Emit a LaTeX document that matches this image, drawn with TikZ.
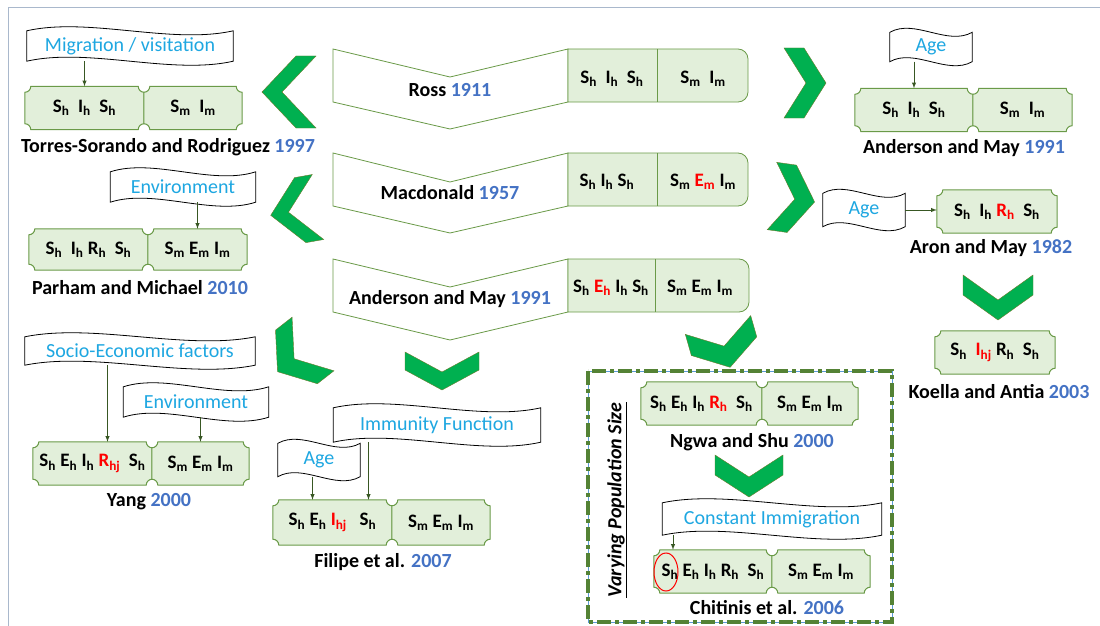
\documentclass[tikz,border=0pt]{standalone}
\usepackage{fontspec}
\setmainfont{Carlito}
\usepackage{tikz}
\usetikzlibrary{calc}
\definecolor{cellfill}{HTML}{E2EFDA}
\definecolor{celldraw}{HTML}{6A9A48}
\definecolor{chevfill}{HTML}{00B050}
\definecolor{chevdraw}{HTML}{6B7A2A}
\definecolor{yearblue}{HTML}{4472C4}
\definecolor{wavetext}{HTML}{1EA7E1}
\definecolor{feedgreen}{HTML}{385723}
\definecolor{frameolive}{HTML}{548235}
\definecolor{frameblue}{HTML}{5B9BD5}
\definecolor{pagegray}{HTML}{A9B8CC}
\pgfdeclarelayer{background}
\pgfsetlayers{background,main}
\newcommand{\yr}[1]{\textcolor{yearblue}{#1}}
\newcommand{\cp}[2]{#1\textsubscript{#2}}
\newcommand{\rc}[2]{\textcolor{red}{\cp{#1}{#2}}}
\newcommand{\plaque}[1]{%
  \begin{pgfonlayer}{background}
  \draw[plq] ($(#1.north west)+(6,0)$) -- ($(#1.north east)+(-6,0)$) arc[start angle=180, end angle=270, radius=6pt] -- ($(#1.south east)+(0,-6)$) arc[start angle=90, end angle=180, radius=6pt] -- ($(#1.south west)+(6,0)$) arc[start angle=0, end angle=90, radius=6pt] -- ($(#1.north west)+(0,6)$) arc[start angle=270, end angle=360, radius=6pt] -- cycle;
  \end{pgfonlayer}}
\newcommand{\wave}[1]{%
  \begin{pgfonlayer}{background}
  \draw[wavy] (#1.north west) .. controls ($(#1.north west)!0.3!(#1.north east)+(0,-14)$) and ($(#1.north west)!0.7!(#1.north east)+(0,14)$) .. (#1.north east) -- (#1.south east) .. controls ($(#1.south west)!0.7!(#1.south east)+(0,14)$) and ($(#1.south west)!0.3!(#1.south east)+(0,-14)$) .. (#1.south west) -- cycle;
  \end{pgfonlayer}}
\tikzset{
  lbl/.style={font=\fontsize{20}{24}\selectfont\bfseries, inner sep=0pt},
  cell/.style={font=\fontsize{19}{22}\selectfont\bfseries, inner sep=0pt},
  cellL/.style={cell, minimum width=119, minimum height=43},
  cellR/.style={cell, minimum width=98, minimum height=43},
  wavelbl/.style={font=\fontsize{20}{24}\selectfont, text=wavetext, inner sep=0pt},
  wavy/.style={draw=black, fill=white, line width=0.8pt},
  plq/.style={draw=celldraw, fill=cellfill, line width=1pt},
  model/.style={draw=celldraw, line width=0.8pt},
  feed/.style={-latex, feedgreen, line width=1pt},
  chevron/.style={fill=chevfill, draw=chevdraw, line width=0.4pt},
  pics/chev/.style args={#1/#2/#3}{code={
    \filldraw[chevron] (-#1,0) -- (0,#2-#3) -- (#1,0) -- (#1,#3) -- (0,#2) -- (-#1,#3) -- cycle;}}
}
\begin{document}
\begin{tikzpicture}[x=1pt, y=-1pt]
	\useasboundingbox (0,0) rectangle (1100,626);
	\draw[pagegray, line width=0.8pt] (8,626) -- (8,7) -- (1100,7);
	%
	\filldraw[model, fill=white] (333,49) -- (450,77) -- (568,49) -- (568,102) -- (450,129) -- (333,102) -- cycle;
	\filldraw[model, fill=cellfill] (568,49) -- (738,49) arc[start angle=90, end angle=0, radius=10pt] -- (748,92) arc[start angle=0, end angle=-90, radius=10pt] -- (568,102) -- cycle;
	\draw[model] (657,49) -- (657,102);
	\node[lbl] (ross) at (450,90) {Ross \yr{1911}};
	\node[cell] (rossH) at (612,79) {\cp{S}{h}\ \ \cp{I}{h}\ \ \cp{S}{h}};
	\node[cell] (rossM) at (703,79) {\cp{S}{m}\ \ \cp{I}{m}};
	%
	\filldraw[model, fill=white] (333,153) -- (450,182) -- (568,153) -- (568,206) -- (450,233) -- (333,206) -- cycle;
	\filldraw[model, fill=cellfill] (568,153) -- (738,153) arc[start angle=90, end angle=0, radius=10pt] -- (748,196) arc[start angle=0, end angle=-90, radius=10pt] -- (568,206) -- cycle;
	\draw[model] (657,153) -- (657,206);
	\node[lbl] (macd) at (450,193) {Macdonald \yr{1957}};
	\node[cell] (macdH) at (607,182) {\cp{S}{h} \cp{I}{h} \cp{S}{h}};
	\node[cell] (macdM) at (703,182) {\cp{S}{m} \rc{E}{m} \cp{I}{m}};
	%
	\filldraw[model, fill=white] (333,259) -- (450,287) -- (568,259) -- (568,312) -- (450,340) -- (333,312) -- cycle;
	\filldraw[model, fill=cellfill] (568,259) -- (739,259) arc[start angle=90, end angle=0, radius=10pt] -- (749,302) arc[start angle=0, end angle=-90, radius=10pt] -- (568,312) -- cycle;
	\draw[model] (655,259) -- (655,312);
	\node[lbl] (andc) at (450,299) {Anderson and May \yr{1991}};
	\node[cell] (andcH) at (611,288) {\cp{S}{h} \rc{E}{h} \cp{I}{h} \cp{S}{h}};
	\node[cell] (andcM) at (700,288) {\cp{S}{m} \cp{E}{m} \cp{I}{m}};
	%
	\pic[rotate=-90] at (316,92) {chev={36/54/20}};
	\pic[rotate=-80] at (318,207) {chev={33/48/18}};
	\pic[rotate=90] at (784,83) {chev={35/42/20}};
	\pic[rotate=82] at (772,196) {chev={34/43/20}};
	\pic[rotate=-52] at (313,344) {chev={34/45/21}};
	\pic at (442,352) {chev={37/38/18}};
	\pic[rotate=16] at (718,325) {chev={34/44/22}};
	\pic at (998,275) {chev={35/45/20}};
	\pic at (749,455) {chev={34/42/20}};
	%
	\node[wavelbl, minimum width=206, minimum height=30] (mig) at (130,46) {Migration / visitation};
	\wave{mig}
	\node[cellL] (torH) at (84.5,108) {\cp{S}{h}\ \ \cp{I}{h}\ \ \cp{S}{h}};
	\node[cellR] (torM) at (193,108) {\cp{S}{m}\ \ \cp{I}{m}};
	\plaque{torH} \plaque{torM}
	\node[lbl] (torL) at (168,147) {Torres-Sorando and Rodriguez \yr{1997}};
	\draw[feed] (mig.south -| torH.north) -- (torH.north);
	%
	\node[wavelbl, minimum width=82, minimum height=29] (ageA) at (931,47) {Age};
	\wave{ageA}
	\node[cellL, minimum width=118] (andH) at (914,110) {\cp{S}{h}\ \ \cp{I}{h}\ \ \cp{S}{h}};
	\node[cellR, minimum width=99] (andM) at (1022.5,110) {\cp{S}{m}\ \ \cp{I}{m}};
	\plaque{andH} \plaque{andM}
	\node[lbl] (andL) at (964,148) {Anderson and May \yr{1991}};
	\draw[feed] (ageA.south -| andH.north) -- (andH.north);
	%
	\node[wavelbl, minimum width=145, minimum height=30] (envP) at (183,187) {Environment};
	\wave{envP}
	\node[cellL, minimum height=41] (parH) at (88.5,249.5) {\cp{S}{h}\ \ \cp{I}{h} \cp{R}{h}\ \ \cp{S}{h}};
	\node[cellR, minimum width=99, minimum height=41] (parM) at (197.5,249.5) {\cp{S}{m} \cp{E}{m} \cp{I}{m}};
	\plaque{parH} \plaque{parM}
	\node[lbl] (parL) at (140,288) {Parham and Michael \yr{2010}};
	\draw[feed] (envP.south -| parM.north) -- (parM.north);
	%
	\node[wavelbl, minimum width=82, minimum height=33] (ageR) at (864,210) {Age};
	\wave{ageR}
	\node[cellL, minimum width=120] (aron) at (997,211.5) {\cp{S}{h}\ \ \cp{I}{h}\ \rc{R}{h}\ \ \cp{S}{h}};
	\plaque{aron}
	\node[lbl] (aronL) at (991,248) {Aron and May \yr{1982}};
	\draw[feed] (ageR.east) -- (ageR.east -| aron.west);
	%
	\node[cellL, minimum width=120] (koel) at (995,352.5) {\cp{S}{h}\ \ \rc{I}{hj} \cp{R}{h}\ \ \cp{S}{h}};
	\plaque{koel}
	\node[lbl] (koelL) at (999,392) {Koella and Antia \yr{2003}};
	%
	\node[wavelbl, minimum width=230, minimum height=28] (socB) at (140,351) {Socio-Economic factors};
	\wave{socB}
	\node[wavelbl, minimum width=145, minimum height=30] (envY) at (196,402) {Environment};
	\wave{envY}
	\node[cellL] (yanH) at (92.5,463.5) {\cp{S}{h}\ \cp{E}{h} \cp{I}{h} \rc{R}{hj}\ \ \cp{S}{h}};
	\node[cellR, minimum width=97] (yanM) at (200.5,463.5) {\cp{S}{m} \cp{E}{m} \cp{I}{m}};
	\plaque{yanH} \plaque{yanM}
	\node[lbl] (yanL) at (149,502) {Yang \yr{2000}};
	\coordinate (socA) at ([xshift=15pt]yanH.north);
	\draw[feed] (socB.south -| socA) -- (socA);
	\draw[feed] (envY.south -| yanM.north) -- (yanM.north);
	%
	\node[wavelbl, minimum width=207, minimum height=34] (immB) at (437,425) {Immunity Function};
	\wave{immB}
	\node[wavelbl, minimum width=82, minimum height=33] (ageF) at (319,460) {Age};
	\wave{ageF}
	\node[cellL, minimum height=45] (filH) at (332.5,522.5) {\cp{S}{h}\ \cp{E}{h}\ \rc{I}{hj}\ \ \ \cp{S}{h}};
	\node[cellR, minimum height=45] (filM) at (441,522.5) {\cp{S}{m} \cp{E}{m} \cp{I}{m}};
	\plaque{filH} \plaque{filM}
	\node[lbl] (filL) at (383,562) {Filipe et al. \yr{2007}};
	\coordinate (immA) at ([xshift=36pt]filH.north);
	\coordinate (ageFA) at ([xshift=-20pt]filH.north);
	\draw[feed] (immB.south -| immA) -- (immA);
	\draw[feed] (ageF.south -| ageFA) -- (ageFA);
	%
	\draw[frameblue, line width=0.8pt] (588,371) rectangle (892,622);
	\draw[frameolive, line width=3.5pt, dash pattern=on 14pt off 4pt on 4pt off 4pt] (588,371) rectangle (892,622);
	\node[lbl, rotate=90] (vps) at (617,500) {\itshape\underline{Varying Population Size}};
	\node[cellL, minimum width=121] (ngwH) at (701.5,403.5) {\cp{S}{h}\ \cp{E}{h} \cp{I}{h} \rc{R}{h}\ \ \cp{S}{h}};
	\node[cellR, minimum width=96] (ngwM) at (810,403.5) {\cp{S}{m} \cp{E}{m} \cp{I}{m}};
	\plaque{ngwH} \plaque{ngwM}
	\node[lbl] (ngwL) at (752,442) {Ngwa and Shu \yr{2000}};
	\node[wavelbl, minimum width=219, minimum height=32] (conB) at (772,519) {Constant Immigration};
	\wave{conB}
	\node[cellL, minimum width=118] (chiH) at (713,571.5) {\cp{S}{h}\ \cp{E}{h} \cp{I}{h} \cp{R}{h}\ \ \cp{S}{h}};
	\node[cellR] (chiM) at (821,571.5) {\cp{S}{m} \cp{E}{m} \cp{I}{m}};
	\plaque{chiH} \plaque{chiM}
	\node[lbl] (chiL) at (767,608) {Chitinis et al. \yr{2006}};
	\coordinate (conA) at ([xshift=-40pt]chiH.north);
	\draw[feed] (conB.south -| conA) -- (conA);
	\draw[red, line width=1pt] (666,572) ellipse [x radius=12pt, y radius=19pt];
\end{tikzpicture}
\end{document}
